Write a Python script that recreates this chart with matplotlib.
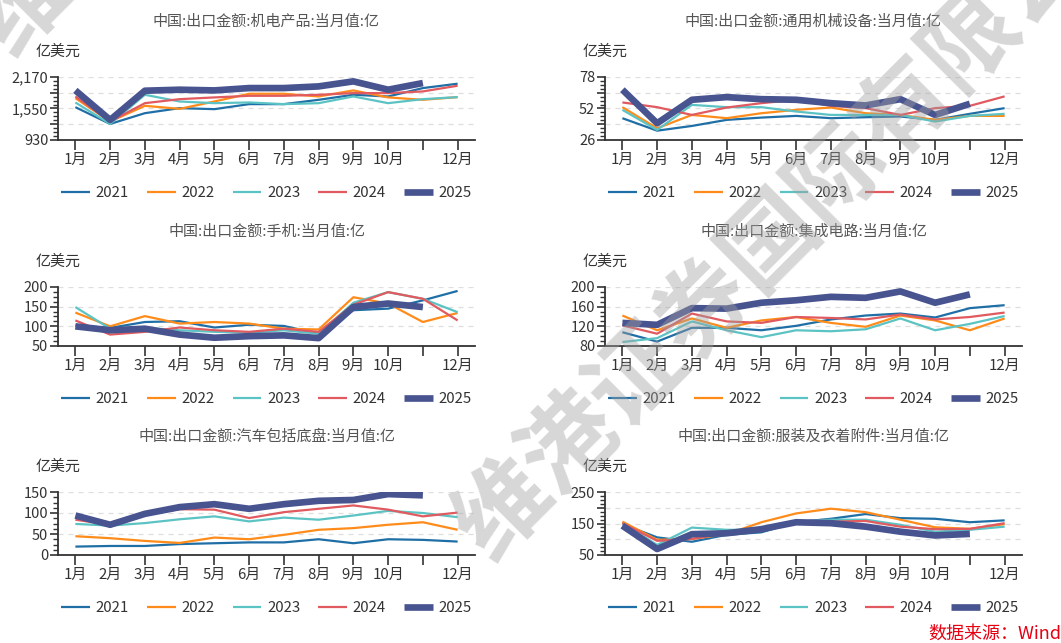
import matplotlib
matplotlib.use("Agg")
import matplotlib.pyplot as plt
from matplotlib.lines import Line2D
from matplotlib.ticker import MultipleLocator, AutoMinorLocator, FuncFormatter

plt.rcParams['font.family'] = ['Noto Sans CJK SC', 'DejaVu Sans']

# month categories, 11月 label is not shown on the original
months = list(range(1, 13))
month_labels = ['1月', '2月', '3月', '4月', '5月', '6月', '7月', '8月', '9月', '10月', '', '12月']
years = ['2021', '2022', '2023', '2024', '2025']
colors = ['#1f6fa6', '#ff8c1a', '#5cc3c4', '#e05a5f', '#48548f']
widths = [1.6, 1.6, 1.6, 1.6, 4.8]

# 机电产品
jidian_2021 = [1576, 1246, 1458, 1557, 1537, 1636, 1636, 1721, 1820, 1787, 1952, 2038]
jidian_2022 = [1754, 1293, 1603, 1543, 1688, 1840, 1840, 1787, 1906, 1768, 1721, 1774]
jidian_2023 = [1669, 1246, 1820, 1688, 1655, 1669, 1636, 1655, 1787, 1655, 1734, 1774]
jidian_2024 = [1787, 1293, 1655, 1734, 1768, 1800, 1800, 1820, 1853, 1853, 1886, 1998]
jidian_2025 = [1906, 1325, 1900, 1920, 1906, 1952, 1952, 1985, 2084, 1920, 2051]

# 通用机械设备
jixie_2021 = [44.0, 33.7, 37.6, 42.6, 44.5, 45.9, 44.0, 44.8, 45.4, 42.6, 47.6, 52.3]
jixie_2022 = [53.1, 35.7, 46.7, 44.0, 48.1, 50.9, 52.8, 48.1, 46.7, 42.6, 45.9, 45.9]
jixie_2023 = [50.9, 34.3, 55.0, 53.1, 53.1, 49.5, 46.7, 46.7, 46.7, 41.2, 45.9, 47.6]
jixie_2024 = [57.0, 53.1, 46.7, 52.8, 56.4, 59.2, 54.2, 52.3, 46.7, 52.3, 54.2, 62.0]
jixie_2025 = [67.5, 39.8, 59.2, 61.4, 59.7, 59.2, 56.4, 54.5, 59.7, 46.7, 55.9]

# 手机
shouji_2021 = [102, 96, 111, 113, 97, 104, 101, 81, 141, 145, 166, 190]
shouji_2022 = [135, 100, 126, 107, 111, 107, 94, 92, 174, 158, 111, 134]
shouji_2023 = [149, 94, 96, 90, 86, 84, 90, 81, 160, 187, 170, 136]
shouji_2024 = [115, 79, 86, 97, 90, 86, 94, 86, 155, 187, 170, 115]
shouji_2025 = [100, 90, 94, 79, 71, 75, 77, 70, 149, 158, 149]

# 集成电路
dianlu_2021 = [108, 89, 117, 117, 112, 121, 134, 142, 146, 138, 157, 163]
dianlu_2022 = [142, 112, 136, 117, 132, 139, 127, 119, 142, 132, 112, 136]
dianlu_2023 = [88, 96, 130, 112, 98, 112, 110, 114, 136, 112, 125, 141]
dianlu_2024 = [122, 105, 146, 130, 127, 139, 137, 134, 144, 134, 139, 148]
dianlu_2025 = [127, 123, 157, 156, 168, 173, 180, 178, 191, 168, 185]

# 汽车包括底盘
qiche_2021 = [20, 21.5, 21.5, 26, 28, 30, 30, 37.5, 28, 37.5, 36, 32]
qiche_2022 = [44.7, 40, 33.5, 28.7, 41.5, 37.5, 48, 60, 64, 72, 78, 60]
qiche_2023 = [74, 70, 76, 85, 92, 80, 89, 84, 94, 105, 100, 90]
qiche_2024 = [84, 72, 97, 109, 108, 88, 102, 110, 118, 108, 92, 101]
qiche_2025 = [94, 72, 98, 114, 121, 110, 121, 129, 131, 145, 142]

# 服装及衣着附件
fuzhuang_2021 = [148, 106, 92, 114, 122, 154, 165, 180, 167, 165, 154, 160]
fuzhuang_2022 = [156, 98, 101, 116, 154, 182, 197, 186, 162, 138, 133, 148]
fuzhuang_2023 = [151, 82, 137, 130, 130, 156, 162, 162, 146, 124, 130, 140]
fuzhuang_2024 = [151, 95, 101, 119, 130, 154, 156, 158, 140, 132, 133, 151]
fuzhuang_2025 = [143, 69, 116, 119, 132, 154, 151, 140, 124, 112, 117]

panels = [
    ("中国:出口金额:机电产品:当月值:亿",
     [jidian_2021, jidian_2022, jidian_2023, jidian_2024, jidian_2025], 930, 2170, 310, 2),
    ("中国:出口金额:通用机械设备:当月值:亿",
     [jixie_2021, jixie_2022, jixie_2023, jixie_2024, jixie_2025], 26, 78, 13, 2),
    ("中国:出口金额:手机:当月值:亿",
     [shouji_2021, shouji_2022, shouji_2023, shouji_2024, shouji_2025], 50, 200, 50, 1),
    ("中国:出口金额:集成电路:当月值:亿",
     [dianlu_2021, dianlu_2022, dianlu_2023, dianlu_2024, dianlu_2025], 80, 200, 40, 1),
    ("中国:出口金额:汽车包括底盘:当月值:亿",
     [qiche_2021, qiche_2022, qiche_2023, qiche_2024, qiche_2025], 0, 150, 50, 1),
    ("中国:出口金额:服装及衣着附件:当月值:亿",
     [fuzhuang_2021, fuzhuang_2022, fuzhuang_2023, fuzhuang_2024, fuzhuang_2025], 50, 250, 50, 2),
]

W, H = 1061, 643
col_px = [(58, 475), (605, 1022)]
row_px = [(77, 140), (287, 346), (492, 555)]
axis_col = '#333333'
text_col = '#333333'
fs = 10.8


def draw_panel(ax, title, series, ylo, yhi, step, label_every, h_px):
    for vals, c, lw in zip(series, colors, widths):
        ax.plot(months[:len(vals)], vals, color=c, lw=lw, solid_capstyle='butt', zorder=3)

    ax.set_xlim(0.5, 12.5)
    ax.set_ylim(ylo, yhi)
    ax.set_xticks(months)
    ax.set_xticklabels(month_labels)
    ax.yaxis.set_major_locator(MultipleLocator(step))
    ax.yaxis.set_minor_locator(AutoMinorLocator(4))

    def fmt(v, pos):
        k = int(round((v - ylo) / step))
        if k % label_every != 0:
            return ''
        return f"{v:,.0f}"
    ax.yaxis.set_major_formatter(FuncFormatter(fmt))

    for g in range(1, int(round((yhi - ylo) / step)) + 1):
        ax.axhline(ylo + g * step, color='#dedede', lw=0.9, ls=(0, (4, 4)), zorder=1)

    for s in ['top', 'right']:
        ax.spines[s].set_visible(False)
    for s in ['left', 'bottom']:
        ax.spines[s].set_color(axis_col)
        ax.spines[s].set_linewidth(1.3)
    ax.tick_params(axis='x', length=7, width=1.2, color=axis_col, labelsize=fs,
                   labelcolor=text_col, pad=2)
    ax.tick_params(axis='y', which='major', length=6, width=1.2, color=axis_col,
                   labelsize=10.5, labelcolor=text_col, pad=1)
    ax.tick_params(axis='y', which='minor', length=3.5, width=1.0, color=axis_col)

    ax.annotate(title, xy=(0.5, 1), xycoords='axes fraction', xytext=(0, 55),
                textcoords='offset pixels', ha='center', va='center',
                fontsize=fs, color='#555555')
    ax.annotate('亿美元', xy=(0, 1), xycoords='axes fraction', xytext=(0, 25),
                textcoords='offset pixels', ha='center', va='center',
                fontsize=fs, color=text_col)

    handles = [Line2D([], [], color=c, lw=lw, solid_capstyle='butt')
               for c, lw in zip(colors, widths)]
    ax.legend(handles, years, loc='center', bbox_to_anchor=(0.5, -53.0 / h_px),
              ncol=5, frameon=False, fontsize=fs, handlelength=1.9,
              handletextpad=0.4, columnspacing=1.2, labelcolor=text_col)


fig = plt.figure(figsize=(W / 100, H / 100), dpi=100)

for i, (title, series, ylo, yhi, step, every) in enumerate(panels):
    r, c = divmod(i, 2)
    x0, x1 = col_px[c]
    y0, y1 = row_px[r]
    ax = fig.add_axes([x0 / W, 1 - y1 / H, (x1 - x0) / W, (y1 - y0) / H])
    draw_panel(ax, title, series, ylo, yhi, step, every, y1 - y0)

# watermark
wm = "维港证券国际有限公司"
fig.text(471 / W, 1 - 544 / H, wm, rotation=45, rotation_mode='anchor',
         ha='left', va='center', fontsize=68, fontweight='bold',
         color='#a0a0a0', alpha=0.42, zorder=10)
fig.text(-9 / W, 1 - 39 / H, wm, rotation=45, rotation_mode='anchor',
         ha='left', va='center', fontsize=68, fontweight='bold',
         color='#a0a0a0', alpha=0.42, zorder=10)

fig.text(928 / W, 1 - 634 / H, "数据来源：Wind", ha='left', va='center',
         fontsize=13, color='#e60012')

fig.savefig("out.png", dpi=100)
